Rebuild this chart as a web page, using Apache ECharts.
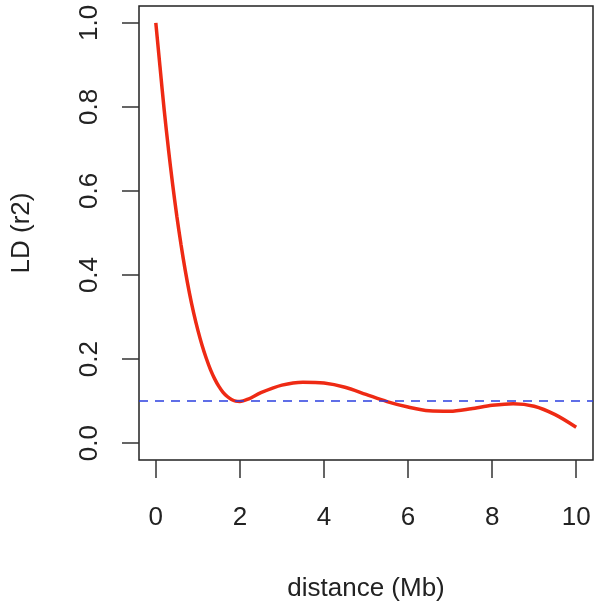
<!DOCTYPE html>
<html>
<head>
<meta charset="utf-8">
<script src="https://cdn.jsdelivr.net/npm/echarts@6/dist/echarts.min.js"></script>
<style>
  html, body { margin: 0; padding: 0; background: #fff; }
  #chart { width: 600px; height: 608px; }
</style>
</head>
<body>
<div id="chart"></div>
<script>
// distance (Mb) and fitted LD (r2)
var distance = [0, 0.1, 0.2, 0.3, 0.4, 0.5, 0.6, 0.7, 0.8, 0.9, 1.0, 1.1, 1.2, 1.3, 1.4, 1.5, 1.6, 1.7, 1.8, 1.9, 2.0,
  2.2, 2.5, 3.0, 3.5, 4.0, 4.5, 5.0, 5.5, 6.0, 6.5, 7.0, 7.5, 8.0, 8.5, 9.0, 9.5, 10.0];
var ld = [1.0, 0.895, 0.792, 0.7, 0.616, 0.54, 0.472, 0.411, 0.357, 0.31, 0.269, 0.233, 0.202, 0.175, 0.153, 0.135, 0.121, 0.111, 0.104, 0.1, 0.099,
  0.105, 0.12, 0.138, 0.145, 0.143, 0.133, 0.116, 0.099, 0.086, 0.077, 0.076, 0.082, 0.09, 0.094, 0.088, 0.068, 0.038];
var xTicks = [0, 2, 4, 6, 8, 10];
var yTicks = [0, 0.2, 0.4, 0.6, 0.8, 1.0];
var threshold = 0.1;

var chart = echarts.init(document.getElementById("chart"));
var font = "Liberation Sans, Arial, sans-serif";

chart.setOption({
  animation: false,
  grid: {
    left: 139,
    right: 7,
    top: 6,
    bottom: 148,
    show: true,
    borderColor: "#222",
    borderWidth: 1.5,
    backgroundColor: "transparent",
  },
  xAxis: {
    type: "value",
    min: -0.4,
    max: 10.4,
    name: "distance (Mb)",
    nameLocation: "middle",
    nameGap: 116,
    nameTextStyle: { fontSize: 26, color: "#222", fontFamily: font },
    axisLine: { show: false, onZero: false },
    splitLine: { show: false },
    axisTick: {
      show: true,
      length: 18,
      customValues: xTicks,
      lineStyle: { color: "#333", width: 1.5 },
    },
    axisLabel: {
      customValues: xTicks,
      fontSize: 26,
      color: "#222",
      fontFamily: font,
      margin: 45,
    },
  },
  yAxis: {
    type: "value",
    min: -0.04,
    max: 1.04,
    name: "LD (r2)",
    nameLocation: "middle",
    nameGap: 104,
    nameTextStyle: { fontSize: 26, color: "#222", fontFamily: font },
    axisLine: { show: false, onZero: false },
    splitLine: { show: false },
    axisTick: {
      show: true,
      length: 17,
      customValues: yTicks,
      lineStyle: { color: "#333", width: 1.5 },
    },
    axisLabel: {
      customValues: yTicks,
      rotate: 90,
      fontSize: 26,
      color: "#222",
      fontFamily: font,
      margin: 36,
      formatter: function (v) { return v.toFixed(1); },
    },
  },
  series: [
    {
      type: "line",
      data: distance.map(function (d, i) { return [d, ld[i]]; }),
      smooth: 0.3,
      showSymbol: false,
      lineStyle: { color: "#ee2a14", width: 3.5 },
      markLine: {
        silent: true,
        symbol: "none",
        label: { show: false },
        lineStyle: { color: "#2b3fe0", type: [9, 7], width: 1.5 },
        data: [{ yAxis: threshold }],
      },
    },
  ],
});
</script>
</body>
</html>
